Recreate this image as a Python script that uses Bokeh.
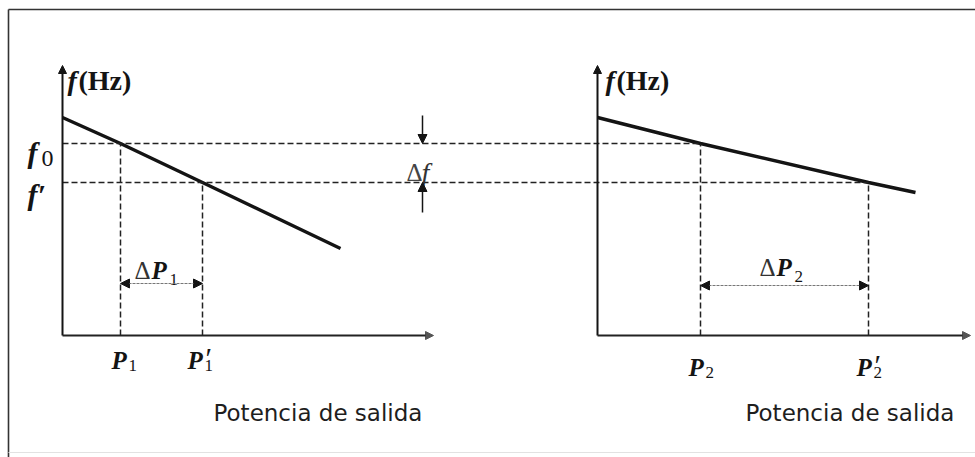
from bokeh.plotting import figure
from bokeh.models import Range1d, Arrow, NormalHead
from bokeh.core.properties import value
from bokeh.embed import file_html
from bokeh.resources import INLINE

# Droop characteristics of two generators (schematic units:
# power measured from each panel's origin, frequency above the power axis)
gen1_power = [0, 58, 140, 278]
gen1_freq = [218, 192, 153, 87]
gen2_power = [0, 103, 271, 318]
gen2_freq = [218, 192, 153, 143]

# Operating points before / after the load change
f0 = 192
f_new = 153
p1, p1_new = 58, 140
p2, p2_new = 103, 271

axis_title = ["f", "(Hz)"]
freq_labels = ["f", "0", "f\u2032"]
delta_labels = ["\u0394", "P", "1", "2", "f"]
x_title = "Potencia de salida"

# Panel placement on the canvas
X0_LEFT, X0_RIGHT = 62, 597
P_AXIS_LEFT, P_AXIS_RIGHT = 371, 373
F_AXIS = 270

INK = "#141414"
SERIF = value("Liberation Serif")
SANS = value("DejaVu Sans")

p = figure(width=975, height=457, x_range=Range1d(0, 975), y_range=Range1d(-122, 335),
           x_axis_type=None, y_axis_type=None, toolbar_location=None,
           output_backend="svg", min_border=0, background_fill_color="white")
p.outline_line_color = None

# frame around the figure
p.line(x=[8, 990], y=[326, 326], line_color="#333", line_width=1.6)
p.line(x=[8, 8], y=[326, -130], line_color="#333", line_width=1.6)
p.line(x=[8, 990], y=[-117, -117], line_color="#e2e2e2", line_width=1.2)

def head(size=8, color=INK):
    return NormalHead(size=size, fill_color=color, line_color=color, line_width=1)

# axes with arrowheads
for x0, plen in [(X0_LEFT, P_AXIS_LEFT), (X0_RIGHT, P_AXIS_RIGHT)]:
    p.add_layout(Arrow(end=head(8), x_start=x0, y_start=0, x_end=x0, y_end=F_AXIS,
                       line_color=INK, line_width=2))
    p.add_layout(Arrow(end=head(8, "#555"), x_start=x0, y_start=0, x_end=x0 + plen, y_end=0,
                       line_color="#222", line_width=2))

# droop lines
p.line(x=[X0_LEFT + v for v in gen1_power], y=gen1_freq, line_color=INK, line_width=3.4)
p.line(x=[X0_RIGHT + v for v in gen2_power], y=gen2_freq, line_color=INK, line_width=3.4)

# dashed construction lines
dash = dict(line_color="#222", line_width=1.5, line_dash="6 3")
p.line(x=[X0_LEFT, X0_RIGHT + p2], y=[f0, f0], **dash)
p.line(x=[X0_LEFT, X0_RIGHT + p2_new], y=[f_new, f_new], **dash)
for x, f in [(X0_LEFT + p1, f0), (X0_LEFT + p1_new, f_new),
             (X0_RIGHT + p2, f0), (X0_RIGHT + p2_new, f_new)]:
    p.line(x=[x, x], y=[0, f], **dash)

# delta-P dimension arrows
for x0, a, b, yv in [(X0_LEFT, p1, p1_new, 52), (X0_RIGHT, p2, p2_new, 50)]:
    p.add_layout(Arrow(start=head(9), end=head(9), x_start=x0 + a, y_start=yv,
                       x_end=x0 + b, y_end=yv, line_color="#777", line_width=1.2,
                       line_dash="3 1"))

# delta-f arrows
DF_X = 422
p.add_layout(Arrow(end=head(9), x_start=DF_X, y_start=f0 + 28, x_end=DF_X, y_end=f0,
                   line_color=INK, line_width=1.5))
p.add_layout(Arrow(end=head(9), x_start=DF_X, y_start=f_new - 30, x_end=DF_X, y_end=f_new,
                   line_color=INK, line_width=1.5))

def txt(x, y, s, size, font=SERIF, style="normal", color=INK, baseline="alphabetic"):
    p.text(x=[x], y=[y], text=[s], text_font=font, text_font_size=f"{size}px",
           text_font_style=style, text_color=color, text_baseline=baseline, text_align="left")

# axis titles f(Hz)
for x0, dx in ((X0_LEFT, 5), (X0_RIGHT, 8)):
    txt(x0 + dx, 255, axis_title[0], 28, style="bold italic")
    txt(x0 + dx + 11, 255, axis_title[1], 28, style="bold")

# frequency labels
txt(27, 183, freq_labels[0], 30, style="bold italic")
txt(41, 177, freq_labels[1], 24)
txt(27, 141, freq_labels[2], 30, style="bold italic")

# power tick labels
def p_label(x, base, sub, prime=False):
    txt(x, base, "P", 25, style="bold italic")
    txt(x + 17, base - 5, sub, 17)
    if prime:
        txt(x + 18, base + 3, "\u2032", 30)

p_label(X0_LEFT + p1 - 9, -25, "1")
p_label(X0_LEFT + p1_new - 15, -25, "1", prime=True)
p_label(X0_RIGHT + p2 - 12, -32, "2")
p_label(X0_RIGHT + p2_new - 12, -32, "2", prime=True)

# delta labels
for xd, base, sub in [(134, 65, delta_labels[2]), (759, 68, delta_labels[3])]:
    txt(xd, base, delta_labels[0], 25, color="#333")
    txt(xd + 17, base, delta_labels[1], 25, style="bold italic")
    txt(xd + 35, base - 9, sub, 17)
txt(406, 163, delta_labels[0], 25, color="#444")
txt(421, 163, delta_labels[4], 28, style="italic", color="#333")

# power axis titles
txt(213, -77, x_title, 23, font=SANS, color="#1e1e1e", baseline="middle")
txt(745, -77, x_title, 23, font=SANS, color="#1e1e1e", baseline="middle")

open("out.html", "w").write(file_html(p, INLINE))
